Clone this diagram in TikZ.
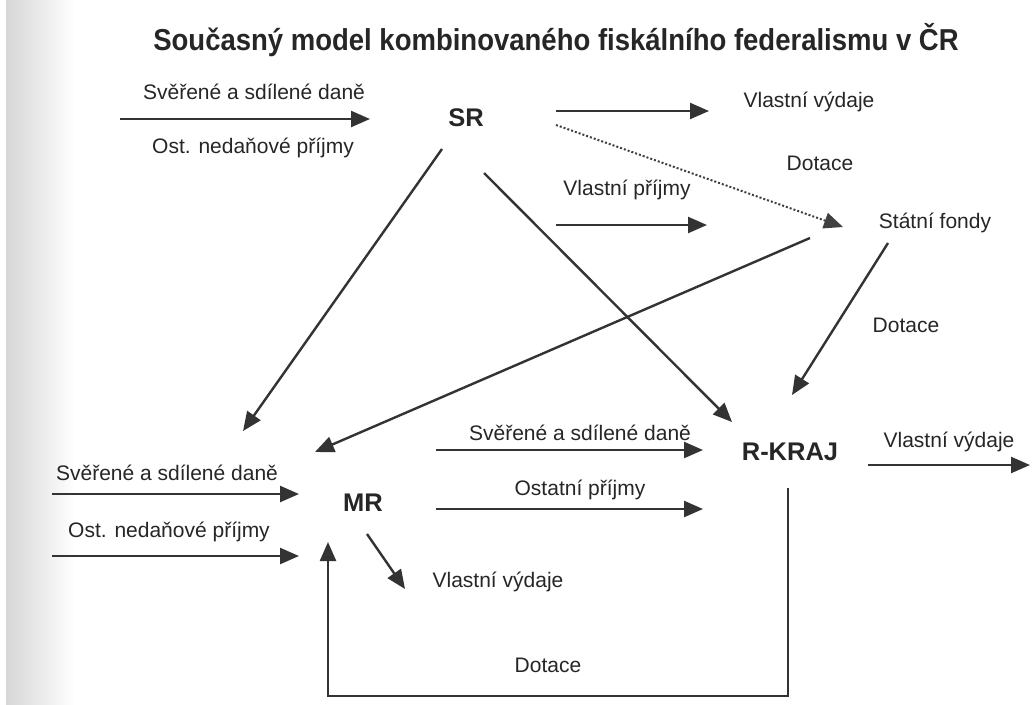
\documentclass[tikz,border=0pt]{standalone}
\usepackage{fontspec}
\setmainfont{Liberation Sans}
\usetikzlibrary{arrows.meta}
\begin{document}
\begin{tikzpicture}[x=1pt,y=-1pt,
  lbl/.style={font=\fontsize{21}{25}\selectfont, text=black!85, inner sep=0pt},
  big/.style={font=\fontsize{25.5}{30}\selectfont\bfseries, text=black!85, inner sep=0pt},
  ttl/.style={font=\fontsize{27.5}{32}\selectfont\bfseries, text=black!85, inner sep=0pt},
  arr/.style={line width=2.4pt, draw=black!80, -{Triangle[length=19pt,width=16pt]}},
  dotarr/.style={line width=2pt, draw=black!75, dash pattern=on 2pt off 2pt, -{Triangle[length=19pt,width=16pt]}},
  ln/.style={line width=2.4pt, draw=black!80}]
\useasboundingbox (0,0) rectangle (1032,704);
\fill[white] (0,0) rectangle (1032,704);
\shade[left color=black!16, right color=white] (6,0) rectangle (75,704);
% title
\node[ttl] (title) at (556,40) {\scalebox{1}[1.1]{Současný model kombinovaného fiskálního federalismu v ČR}};
% main nodes
\node[big] (SR) at (466,118) {SR};
\node[big] (MR) at (363,503) {MR};
\node[big] (RK) at (790,452) {R-KRAJ};
\node[lbl] (SF) at (935,223) {Státní fondy};
% labels
\node[lbl] (l1) at (254,92) {Svěřené a sdílené daně};
\node[lbl] (l2) at (253,148) {Ost. nedaňové příjmy};
\node[lbl] (vv1) at (809,102) {Vlastní výdaje};
\node[lbl] (dot1) at (820,163) {Dotace};
\node[lbl] (vp) at (627,190) {Vlastní příjmy};
\node[lbl] (dot2) at (906,325) {Dotace};
\node[lbl] (l3) at (580,433) {Svěřené a sdílené daně};
\node[lbl] (l4) at (580,490) {Ostatní příjmy};
\node[lbl] (vv2) at (949,442) {Vlastní výdaje};
\node[lbl] (l5) at (167,473) {Svěřené a sdílené daně};
\node[lbl] (l6) at (169,532) {Ost. nedaňové příjmy};
\node[lbl] (vv3) at (498,582) {Vlastní výdaje};
\node[lbl] (dot3) at (548,665) {Dotace};
% coordinates
\coordinate (a1s) at (120,119); \coordinate (a1e) at (370,119);
\coordinate (a2s) at (556,111); \coordinate (a2e) at (709,111);
\coordinate (a3s) at (556,125); \coordinate (a3e) at (843,227);
\coordinate (a4s) at (556,225); \coordinate (a4e) at (707,225);
\coordinate (a5s) at (442,149); \coordinate (a5e) at (243,431);
\coordinate (a6s) at (484,173); \coordinate (a6e) at (732,422);
\coordinate (a7s) at (810,238); \coordinate (a7e) at (315,452);
\coordinate (a8s) at (888,243); \coordinate (a8e) at (792,395);
\coordinate (a9s) at (436,450); \coordinate (a9e) at (703,450);
\coordinate (a10s) at (436,509); \coordinate (a10e) at (703,509);
\coordinate (a11s) at (868,465); \coordinate (a11e) at (1030,465);
\coordinate (a12s) at (52,494); \coordinate (a12e) at (299,494);
\coordinate (a13s) at (52,556); \coordinate (a13e) at (299,556);
\coordinate (a14s) at (367,534); \coordinate (a14e) at (405,589);
\coordinate (b1) at (788,488); \coordinate (b2) at (788,696);
\coordinate (b3) at (328,696); \coordinate (b4) at (328,542);
% connectors
\draw[arr] (a1s) -- (a1e);
\draw[arr] (a2s) -- (a2e);
\draw[dotarr] (a3s) -- (a3e);
\draw[arr] (a4s) -- (a4e);
\draw[arr] (a5s) -- (a5e);
\draw[arr] (a6s) -- (a6e);
\draw[arr] (a7s) -- (a7e);
\draw[arr] (a8s) -- (a8e);
\draw[arr] (a9s) -- (a9e);
\draw[arr] (a10s) -- (a10e);
\draw[arr] (a11s) -- (a11e);
\draw[arr] (a12s) -- (a12e);
\draw[arr] (a13s) -- (a13e);
\draw[arr] (a14s) -- (a14e);
\draw[arr, line join=miter] (b1) -- (b2) -- (b3) -- (b4);
\end{tikzpicture}
\end{document}
